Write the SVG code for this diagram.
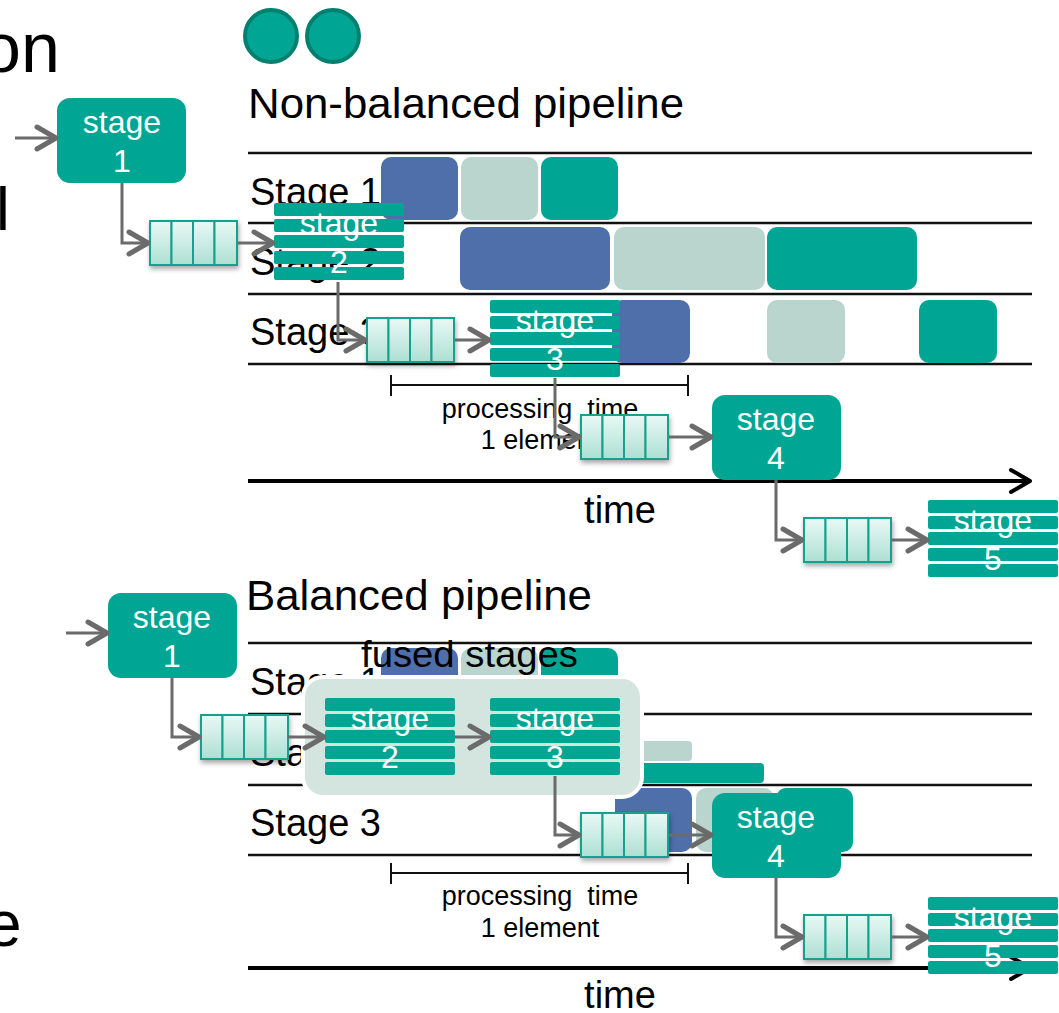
<svg xmlns="http://www.w3.org/2000/svg" xmlns:xlink="http://www.w3.org/1999/xlink" width="1059" height="1013" viewBox="0 0 1059 1013">
  <style>
    text { font-family: "Liberation Sans", Arial, sans-serif; }
    .big { font-size: 70px; fill: #000; }
    .title { font-size: 43px; fill: #000; }
    .row { font-size: 38px; fill: #000; }
    .note { font-size: 27px; fill: #000; text-anchor: middle; }
    .axis-label { font-size: 38px; fill: #000; text-anchor: middle; }
    .lbl { font-size: 32px; fill: #fff; text-anchor: middle; }
    .grid { stroke: #111; stroke-width: 2.5; }
    .axis { stroke: #000; stroke-width: 4; fill: none; marker-end: url(#axisHead); }
    .tick { stroke: #111; stroke-width: 2; fill: none; }
    .blue { fill: #4f6fab; }
    .light { fill: #b9d5cd; }
    .teal { fill: #00a693; }
    .box { fill: #00a693; }
    .flow { stroke: #6b6b6b; stroke-width: 3; fill: none; marker-end: url(#chev); }
    .cell { fill: url(#qgrad); stroke: #17a08e; stroke-width: 2; }
    .queue { filter: url(#qshadow); }
  </style>
  <defs>
    <linearGradient id="qgrad" x1="0" y1="0" x2="0" y2="1">
      <stop offset="0" stop-color="#e9f9f5"/>
      <stop offset="1" stop-color="#addfd3"/>
    </linearGradient>
    <filter id="qshadow" x="-20%" y="-20%" width="140%" height="160%">
      <feDropShadow dx="1" dy="3" stdDeviation="2.5" flood-color="#000" flood-opacity="0.35"/>
    </filter>
    <marker id="chev" viewBox="0 0 26 28" refX="22" refY="14" markerWidth="26" markerHeight="28" markerUnits="userSpaceOnUse" orient="auto">
      <path d="M3,3 L22,14 L3,25" fill="none" stroke="#6b6b6b" stroke-width="5" stroke-linecap="round" stroke-linejoin="round"/>
    </marker>
    <marker id="axisHead" viewBox="0 0 26 28" refX="22" refY="14" markerWidth="26" markerHeight="28" markerUnits="userSpaceOnUse" orient="auto">
      <path d="M3,3 L22,14 L3,25" fill="none" stroke="#000" stroke-width="4" stroke-linecap="round" stroke-linejoin="round"/>
    </marker>
    <!-- four-slot buffer queue -->
    <g id="queueShape">
      <rect class="cell" x="1" y="1" width="21.5" height="44"/>
      <rect class="cell" x="22.5" y="1" width="21.5" height="44"/>
      <rect class="cell" x="44" y="1" width="21.5" height="44"/>
      <rect class="cell" x="65.5" y="1" width="22.5" height="44"/>
    </g>
    <!-- parallel (striped) stage body -->
    <g id="stripes">
      <rect class="teal" x="0" y="0" width="130" height="13" rx="2"/>
      <rect class="teal" x="0" y="16" width="130" height="13" rx="2"/>
      <rect class="teal" x="0" y="32" width="130" height="13" rx="2"/>
      <rect class="teal" x="0" y="48" width="130" height="13" rx="2"/>
      <rect class="teal" x="0" y="64" width="130" height="13" rx="2"/>
    </g>
  </defs>

  <rect width="1059" height="1013" fill="#fff"/>

  <!-- slide body text at the left edge -->
  <text class="big" x="-18" y="72">on</text>
  <text class="big" x="-4" y="230" style="font-size:62px">l</text>
  <text class="big" x="-14" y="946" style="font-size:64px">e</text>

  <!-- header bullets -->
  <circle cx="271" cy="36" r="26" fill="#00a693" stroke="#00806f" stroke-width="4"/>
  <circle cx="333" cy="36" r="26" fill="#00a693" stroke="#00806f" stroke-width="4"/>

  <!-- non-balanced timeline -->
  <g id="chart-nonbalanced">
    <text class="title" x="248" y="118" textLength="436" lengthAdjust="spacingAndGlyphs">Non-balanced pipeline</text>
    <line class="grid" x1="248" y1="153" x2="1032" y2="153"/>
    <line class="grid" x1="248" y1="223" x2="1032" y2="223"/>
    <line class="grid" x1="248" y1="294" x2="1032" y2="294"/>
    <line class="grid" x1="248" y1="364" x2="1032" y2="364"/>
    <text class="row" x="250" y="205">Stage 1</text>
    <text class="row" x="250" y="275">Stage 2</text>
    <text class="row" x="250" y="345">Stage 3</text>
    <rect class="blue" x="381" y="157" width="77" height="63" rx="10"/>
    <rect class="light" x="461" y="157" width="77" height="63" rx="10"/>
    <rect class="teal" x="541" y="157" width="77" height="63" rx="10"/>
    <rect class="blue" x="460" y="227" width="150" height="63" rx="10"/>
    <rect class="light" x="614" y="227" width="151" height="63" rx="10"/>
    <rect class="teal" x="767" y="227" width="150" height="63" rx="10"/>
    <rect class="blue" x="612" y="300" width="78" height="63" rx="10"/>
    <rect class="light" x="767" y="300" width="78" height="63" rx="10"/>
    <rect class="teal" x="919" y="300" width="78" height="63" rx="10"/>
    <path class="tick" d="M391,385 H688 M391,375 V396 M688,375 V396"/>
    <text class="note" x="540" y="418" xml:space="preserve">processing  time</text>
    <text class="note" x="540" y="449">1 element</text>
    <line class="axis" x1="248" y1="481" x2="1030" y2="481"/>
    <text class="axis-label" x="620" y="523">time</text>
  </g>

  <!-- balanced timeline -->
  <g id="chart-balanced">
    <text class="title" x="246" y="610" textLength="346" lengthAdjust="spacingAndGlyphs">Balanced pipeline</text>
    <line class="grid" x1="248" y1="643" x2="1032" y2="643"/>
    <line class="grid" x1="248" y1="714" x2="1032" y2="714"/>
    <line class="grid" x1="248" y1="785" x2="1032" y2="785"/>
    <line class="grid" x1="248" y1="855" x2="1032" y2="855"/>
    <text class="row" x="250" y="695">Stage 1</text>
    <text class="row" x="250" y="766">Stage 2</text>
    <text class="row" x="250" y="836">Stage 3</text>
    <rect class="blue" x="381" y="648" width="77" height="63" rx="10"/>
    <rect class="light" x="461" y="648" width="77" height="63" rx="10"/>
    <rect class="teal" x="541" y="648" width="77" height="63" rx="10"/>
    <rect class="light" x="540" y="741" width="152" height="20" rx="4"/>
    <rect class="teal" x="540" y="763" width="224" height="20" rx="4"/>
    <rect class="blue" x="615" y="788" width="77" height="64" rx="10"/>
    <rect class="light" x="696" y="788" width="78" height="64" rx="10"/>
    <rect class="teal" x="776" y="788" width="77" height="64" rx="10"/>
    <path class="tick" d="M391,873 H688 M391,863 V884 M688,863 V884"/>
    <text class="note" x="540" y="905" xml:space="preserve">processing  time</text>
    <text class="note" x="540" y="937">1 element</text>
    <line class="axis" x1="248" y1="968" x2="1030" y2="968"/>
    <text class="axis-label" x="620" y="1008">time</text>
  </g>

  <!-- non-balanced pipeline nodes -->
  <g id="nb-stage1">
    <rect class="box" x="57" y="98" width="129" height="85" rx="13"/>
    <text class="lbl" x="122" y="133">stage</text>
    <text class="lbl" x="122" y="172">1</text>
  </g>
  <g id="nb-queue1" class="queue" transform="translate(149,220)"><use href="#queueShape"/></g>
  <g id="nb-stage2">
    <use href="#stripes" x="274" y="203"/>
    <text class="lbl" x="339" y="234">stage</text>
    <text class="lbl" x="339" y="273">2</text>
  </g>
  <g id="nb-queue2" class="queue" transform="translate(366,317)"><use href="#queueShape"/></g>
  <g id="nb-stage3">
    <use href="#stripes" x="490" y="300"/>
    <text class="lbl" x="555" y="331">stage</text>
    <text class="lbl" x="555" y="370">3</text>
  </g>
  <g id="nb-queue3" class="queue" transform="translate(580,414)"><use href="#queueShape"/></g>
  <g id="nb-stage4">
    <rect class="box" x="712" y="395" width="129" height="85" rx="13"/>
    <text class="lbl" x="776" y="430">stage</text>
    <text class="lbl" x="776" y="469">4</text>
  </g>
  <g id="nb-queue4" class="queue" transform="translate(803,517)"><use href="#queueShape"/></g>
  <g id="nb-stage5">
    <use href="#stripes" x="928" y="500"/>
    <text class="lbl" x="993" y="531">stage</text>
    <text class="lbl" x="993" y="570">5</text>
  </g>

  <!-- balanced pipeline nodes -->
  <g id="b-stage1">
    <rect class="box" x="108" y="593" width="129" height="85" rx="13"/>
    <text class="lbl" x="172" y="628">stage</text>
    <text class="lbl" x="172" y="667">1</text>
  </g>
  <g id="b-queue1" class="queue" transform="translate(200,714)"><use href="#queueShape"/></g>
  <g id="b-fused">
    <text x="361" y="667" style="font-size:36px" textLength="217" lengthAdjust="spacingAndGlyphs">fused stages</text>
    <rect x="303" y="677" width="339" height="120" rx="20" fill="#d4e5e0" stroke="#fff" stroke-width="4"/>
  </g>
  <g id="b-stage2">
    <use href="#stripes" x="325" y="698"/>
    <text class="lbl" x="390" y="729">stage</text>
    <text class="lbl" x="390" y="768">2</text>
  </g>
  <g id="b-stage3">
    <use href="#stripes" x="490" y="698"/>
    <text class="lbl" x="555" y="729">stage</text>
    <text class="lbl" x="555" y="768">3</text>
  </g>
  <g id="b-queue2" class="queue" transform="translate(580,812)"><use href="#queueShape"/></g>
  <g id="b-stage4">
    <rect class="box" x="712" y="793" width="129" height="85" rx="13"/>
    <text class="lbl" x="776" y="828">stage</text>
    <text class="lbl" x="776" y="867">4</text>
  </g>
  <g id="b-queue3" class="queue" transform="translate(803,914)"><use href="#queueShape"/></g>
  <g id="b-stage5">
    <use href="#stripes" x="928" y="897"/>
    <text class="lbl" x="993" y="928">stage</text>
    <text class="lbl" x="993" y="967">5</text>
  </g>

  <!-- data-flow connectors -->
  <g id="connectors">
    <path class="flow" d="M15,138 H56"/>
    <path class="flow" d="M122,183 V243 H148"/>
    <path class="flow" d="M238,243 H273"/>
    <path class="flow" d="M338,282 V340 H365"/>
    <path class="flow" d="M455,340 H489"/>
    <path class="flow" d="M555,378 V437 H579"/>
    <path class="flow" d="M669,437 H711"/>
    <path class="flow" d="M776,480 V540 H802"/>
    <path class="flow" d="M892,540 H927"/>

    <path class="flow" d="M66,633 H107"/>
    <path class="flow" d="M172,678 V737 H199"/>
    <path class="flow" d="M288,737 H324"/>
    <path class="flow" d="M455,737 H489"/>
    <path class="flow" d="M555,776 V835 H579"/>
    <path class="flow" d="M669,835 H711"/>
    <path class="flow" d="M776,878 V937 H802"/>
    <path class="flow" d="M892,937 H927"/>
  </g>
</svg>
